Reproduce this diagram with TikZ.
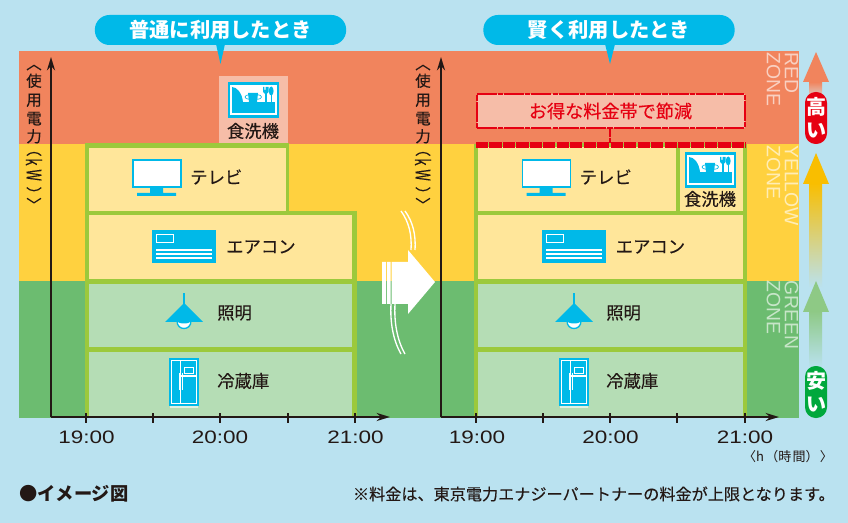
\documentclass[tikz,border=0pt]{standalone}
\usepackage{fontspec}
\usepackage{graphicx}
\setmainfont{Noto Sans CJK JP}
\newfontfamily\jpm[FakeBold=0.2]{Noto Sans CJK JP}
\newfontfamily\widefont[FakeStretch=1.25]{Liberation Sans}
\newfontfamily\zonefont[FakeStretch=1.0]{Liberation Sans}
\usetikzlibrary{arrows.meta}
\definecolor{bgblue}{HTML}{BAE2F0}
\definecolor{zred}{HTML}{F1845D}
\definecolor{zyellow}{HTML}{FFD13F}
\definecolor{zgreen}{HTML}{6CBC70}
\definecolor{cyanb}{HTML}{00B9E8}
\definecolor{rowy}{HTML}{FFE69A}
\definecolor{rowg}{HTML}{B5DDB5}
\definecolor{edgeg}{HTML}{9CC93C}
\definecolor{pale}{HTML}{F6BDA8}
\definecolor{redc}{HTML}{E60012}
\definecolor{greenc}{HTML}{00A83C}
\definecolor{inkc}{HTML}{231815}
\definecolor{yarrow}{HTML}{F9BE00}
\definecolor{garrow}{HTML}{8EC985}
\tikzset{
  x=0.75pt,y=-0.75pt,
  bubble/.style={fill=cyanb,rounded corners=11pt,minimum width=188.5pt,minimum height=22.5pt,inner sep=0pt,text=white,font=\fontsize{15.2}{15}\selectfont\bfseries},
  label/.style={text=inkc,inner sep=0pt,font=\fontsize{13}{13}\selectfont\jpm},
  timelab/.style={text=inkc,inner sep=0pt,font=\fontsize{13.5}{14}\selectfont\widefont},
  zone/.style={rotate=-90,anchor=west,inner sep=0pt,text=white,text opacity=.62,font=\fontsize{14.5}{15}\selectfont\zonefont},
  axis/.style={draw=inkc,line width=1.6pt,-{Stealth[length=10pt,width=6pt]}},
  tick/.style={draw=inkc,line width=1.3pt},
  edgeh/.style={draw=edgeg,line width=3.6pt},
  edgev/.style={draw=edgeg,line width=3pt},
  pill/.style={rounded corners=8pt,minimum width=16.5pt,minimum height=39pt,inner sep=0pt,text=white,align=center,font=\fontsize{15}{17}\selectfont\bfseries},
  wline/.style={draw=white,line width=0.9pt},
}
% one stacked character: zero height, centred on its line
\newcommand\vp[2]{\hbox to 18pt{\hss\raisebox{#1}[0pt][0pt]{#2}\hss}}
\newcommand\rt[1]{\rotatebox[origin=c]{-90}{#1}}
\newcommand\ylab[2]{\node[text=inkc,inner sep=0pt,anchor=north,font=\fontsize{11.6}{12}\selectfont\jpm] (#2) at (#1,67) {\vbox{\offinterlineskip
  \vp{-.13em}{\rt{〈}}\vskip10.1pt
  \vp{-.38em}{使}\vskip14.25pt
  \vp{-.38em}{用}\vskip13.9pt
  \vp{-.38em}{電}\vskip13.5pt
  \vp{-.38em}{力}\vskip12.4pt
  \vp{-.13em}{\rt{（}}\vskip9.4pt
  \vp{-.3em}{\rt{\scalebox{.85}[1.3]{k}}}\vskip9.4pt
  \vp{-.3em}{\rt{\scalebox{.85}[1.3]{W}}}\vskip9.4pt
  \vp{-.63em}{\rt{）}}\vskip7.9pt
  \vp{-.63em}{\rt{〉}}}};}
\newcommand\tvicon[1]{\begin{scope}[shift={(#1,0)}]
  \filldraw[fill=white,draw=cyanb,line width=1.4pt] (133,160) rectangle (181,187);
  \fill[cyanb] (150,188) rectangle (163,194) (137,193) rectangle (176,196);
\end{scope}}
\newcommand\acicon[1]{\begin{scope}[shift={(#1,0)}]
  \fill[cyanb] (152,230) rectangle (216,263);
  \draw[wline] (156.5,234.5) rectangle (173.5,242.5);
  \draw[wline] (156,250) -- (212,250) (156,254) -- (212,254) (156,258) -- (212,258);
\end{scope}}
\newcommand\lampicon[1]{\begin{scope}[shift={(#1,0)}]
  \filldraw[fill=white,draw=cyanb,line width=1pt] (177,321) .. controls (177,331) and (191,331) .. (191,321) -- cycle;
  \fill[cyanb] (178,322) .. controls (179,324) and (189,324) .. (190,322) -- cycle;
  \fill[cyanb] (184,303) -- (203,322) -- (165,322) -- cycle;
  \fill[cyanb] (183,293) rectangle (185,305);
\end{scope}}
\newcommand\fridgeicon[1]{\begin{scope}[shift={(#1,0)}]
  \fill[cyanb] (169,358) rectangle (199,406);
  \fill[white,opacity=.6] (170,406) rectangle (198,408);
  \draw[wline] (171.5,360.5) rectangle (196.5,403.5);
  \draw[wline] (180.5,360) -- (180.5,404) (181,376) -- (197,376);
  \draw[wline] (184.5,367.5) rectangle (193.5,373.5);
  \draw[wline] (179.5,373) -- (179.5,390) (182.5,373) -- (182.5,390);
\end{scope}}
\newcommand\dishicon[2]{\begin{scope}[shift={(#1,#2)}]
  \fill[cyanb] (0,0) rectangle (51,36);
  \fill[white] (2,3) rectangle (49,33);
  \fill[cyanb] (4,20) rectangle (47,31);
  \fill[cyanb] (4,5) .. controls (9,5) and (14,11) .. (15,20) -- (4,20) -- cycle;
  \draw[cyanb,line width=0.5pt] (21,15) ellipse (4 and 2.2) (30,15) ellipse (3.5 and 2.2);
  \fill[cyanb] (20,11) -- (30,11) -- (29,20) -- (21,20) -- cycle;
  \fill[cyanb] (37,12) rectangle (38.5,20);
  \fill[cyanb] (35,5) -- (35.8,5) -- (35.8,8) -- (36.6,8) -- (36.6,5) -- (37.4,5) -- (37.4,8) -- (38.2,8) -- (38.2,5) -- (40.5,5) -- (40.5,10) -- (38.5,12) -- (37,12) -- (35,10) -- cycle;
  \fill[cyanb] (42.5,12) rectangle (44,20);
  \fill[cyanb] (43.2,9) ellipse (2.4 and 4.5);
\end{scope}}
\begin{document}
\begin{tikzpicture}
\useasboundingbox (0,0) rectangle (848,523);
\fill[bgblue] (0,0) rectangle (848,523);
% zones
\fill[zred] (19,51) rectangle (799,144);
\fill[zyellow] (19,144) rectangle (799,281);
\fill[zgreen] (19,281) rectangle (799,418);
% bubbles
\node[bubble] (b1) at (220.5,30) {普通に利用したとき};
\fill[cyanb] (216,44) -- (225,44) -- (220.5,64) -- cycle;
\node[bubble] (b2) at (609,30) {賢く利用したとき};
\fill[cyanb] (605,44) -- (615,44) -- (610,64) -- cycle;
% left stack
\fill[pale] (219,76) rectangle (288,145);
\fill[rowy] (87,145) rectangle (288,213) (87,213) rectangle (355,282);
\fill[rowg] (87,282) rectangle (355,417);
\draw[edgeh] (85,145.5) -- (289,145.5);
\draw[edgeh] (85,213) -- (357,213);
\draw[edgeh] (85,281.5) -- (357,281.5);
\draw[edgeh] (85,349.5) -- (357,349.5);
\draw[edgev] (86.5,144) -- (86.5,417);
\draw[edgev,line width=2.4pt] (287.5,144) -- (287.5,213);
\draw[edgev,line width=3.6pt] (354.5,211) -- (354.5,417);
% right stack
\fill[rowy] (476,145) rectangle (745,282);
\fill[rowg] (476,282) rectangle (745,417);
\draw[edgeh] (474,213) -- (747,213);
\draw[edgeh] (474,281.5) -- (747,281.5);
\draw[edgeh] (474,349.5) -- (747,349.5);
\draw[edgev] (476,144) -- (476,417);
\draw[edgev] (678,144) -- (678,213);
\draw[edgev,line width=3pt] (744.7,144) -- (744.7,417);
\draw[edgeh] (476,145) -- (746,145);
% saving
\node[draw=redc,fill=pale,line width=1.5pt,dash pattern=on 15pt off 0.8pt on 4pt off 0.8pt,minimum width=201pt,minimum height=25pt,inner sep=0pt,text=redc,font=\fontsize{13.6}{14}\selectfont\jpm] (save) at (610.5,111) {お得な料金帯で節減};
\coordinate (saveb) at (610,143);
\draw[redc,line width=1.5pt,dash pattern=on 6pt off 1pt] (save.south -| saveb) -- (saveb);
\coordinate (sl) at (476,145); \coordinate (sr) at (746,145);
\draw[redc,line width=3.8pt,dash pattern=on 9.1pt off 1pt] (sl) -- (sr);
% icons
\dishicon{228}{82}
\node[label] (d1) at (253,131) {食洗機};
\dishicon{685}{152}
\node[label] (d2) at (710,199) {食洗機};
\tvicon{0}\tvicon{389.5}
\acicon{0}\acicon{390}
\lampicon{0}\lampicon{390}
\fridgeicon{0}\fridgeicon{390}
\node[label,anchor=west] (t1) at (190,177) {テレビ};
\node[label,anchor=west] (t2) at (579.5,177) {テレビ};
\node[label,anchor=west] (a1) at (226,247) {エアコン};
\node[label,anchor=west] (a2) at (615.5,247) {エアコン};
\node[label,anchor=west] (l1) at (217,313) {照明};
\node[label,anchor=west] (l2) at (606,313) {照明};
\node[label,anchor=west] (f1) at (217,381) {冷蔵庫};
\node[label,anchor=west] (f2) at (606,381) {冷蔵庫};
% axes
\coordinate (o1) at (51,417); \coordinate (y1) at (51,57); \coordinate (x1) at (390,417);
\coordinate (o2) at (441,417); \coordinate (y2) at (441,57); \coordinate (x2) at (779,417);
\draw[axis] (o1) -- (y1);
\draw[axis] (o1) -- (x1);
\draw[axis] (o2) -- (y2);
\draw[axis] (o2) -- (x2);
\foreach \t in {86,153,220,288,355,476,543,610,677,745} \draw[tick] (\t,413) -- (\t,423);
\ylab{34}{yl1}
\ylab{423}{yl2}
\node[timelab] (h1) at (86.5,437) {19:00};
\node[timelab] (h2) at (220,437) {20:00};
\node[timelab] (h3) at (355.5,437) {21:00};
\node[timelab] (h4) at (477,437) {19:00};
\node[timelab] (h5) at (610.5,437) {20:00};
\node[timelab] (h6) at (745,437) {21:00};
\node[text=inkc,inner sep=0pt,font=\fontsize{9.75}{10}\selectfont] (unit) at (788,457) {〈h\hspace{1pt}（時\hspace{1pt}間）\hspace{1pt}〉};
% big arrow
\draw[wline,line width=1pt] (401,211) .. controls (409,222) and (412,235) .. (411,250);
\draw[wline,line width=1pt] (405,211) .. controls (413,222) and (416,235) .. (415,250);
\draw[wline,line width=1pt] (391,304) .. controls (390,322) and (393,340) .. (401,354);
\draw[wline,line width=1pt] (395,304) .. controls (394,322) and (397,340) .. (405,354);
\fill[white] (382,262) rectangle (386,304) (387,262) rectangle (390.5,304);
\fill[white] (391.5,262) -- (408,262) -- (408,250) -- (435,282) -- (408,314) -- (408,304) -- (391.5,304) -- cycle;
% scale arrows
\shade[top color=zred,bottom color=pale!60!bgblue] (809,82) rectangle (822,96);
\fill[zred] (816,52) -- (829,82) -- (803,82) -- cycle;
\node[pill,fill=redc] (hi) at (816,118) {高\\い};
\shade[top color=yarrow,middle color=yarrow,bottom color=bgblue] (809,183) rectangle (822,288);
\fill[yarrow] (816,153) -- (829,184) -- (803,184) -- cycle;
\shade[top color=garrow,bottom color=bgblue] (809,311) rectangle (822,368);
\fill[garrow] (816,281) -- (829,312) -- (803,312) -- cycle;
\node[pill,fill=greenc] (lo) at (816,392) {安\\い};
% zone labels
\node[zone] (z1) at (791.5,52) {RED};
\node[zone] (z2) at (773.5,52) {ZONE};
\node[zone] (z3) at (791.5,145) {YELLOW};
\node[zone] (z4) at (773.5,145) {ZONE};
\node[zone] (z5) at (791.5,280) {GREEN};
\node[zone] (z6) at (773.5,280) {ZONE};
% footer
\node[anchor=west,inner sep=0pt,text=inkc,font=\fontsize{13.7}{14}\selectfont\bfseries] (n1) at (19,494) {●イメージ図};
\node[anchor=east,inner sep=0pt,text=inkc,font=\fontsize{12.1}{12}\selectfont\jpm] (n2) at (835,494) {※料金は、東京電力エナジーパートナーの料金が上限となります。};
\end{tikzpicture}
\end{document}
